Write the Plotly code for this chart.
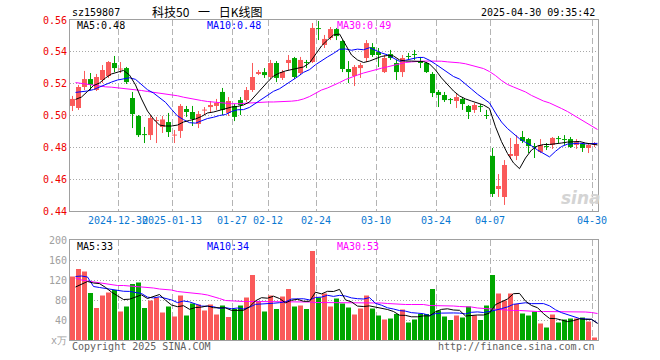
import plotly.graph_objects as go

dates = ["2024-12-18","2024-12-19","2024-12-20","2024-12-23","2024-12-24","2024-12-25","2024-12-26","2024-12-27","2024-12-30","2024-12-31",
 "2025-01-02","2025-01-03","2025-01-06","2025-01-07","2025-01-08","2025-01-09","2025-01-10","2025-01-13","2025-01-14","2025-01-15",
 "2025-01-16","2025-01-17","2025-01-20","2025-01-21","2025-01-22","2025-01-23","2025-01-24","2025-01-27","2025-02-05","2025-02-06",
 "2025-02-07","2025-02-10","2025-02-11","2025-02-12","2025-02-13","2025-02-14","2025-02-17","2025-02-18","2025-02-19","2025-02-20",
 "2025-02-21","2025-02-24","2025-02-25","2025-02-26","2025-02-27","2025-02-28","2025-03-03","2025-03-04","2025-03-05","2025-03-06",
 "2025-03-07","2025-03-10","2025-03-11","2025-03-12","2025-03-13","2025-03-14","2025-03-17","2025-03-18","2025-03-19","2025-03-20",
 "2025-03-21","2025-03-24","2025-03-25","2025-03-26","2025-03-27","2025-03-28","2025-03-31","2025-04-01","2025-04-02","2025-04-03",
 "2025-04-07","2025-04-08","2025-04-09","2025-04-10","2025-04-11","2025-04-14","2025-04-15","2025-04-16","2025-04-17","2025-04-18",
 "2025-04-21","2025-04-22","2025-04-23","2025-04-24","2025-04-25","2025-04-28","2025-04-29","2025-04-30"]

open_ = [0.5060,0.5047,0.5179,0.5229,0.5160,0.5223,0.5248,0.5330,0.5289,0.5298,
 0.5110,0.4997,0.4880,0.4877,0.4965,0.4928,0.4959,0.4874,0.4903,0.5041,
 0.5022,0.4947,0.5031,0.5053,0.5060,0.5148,0.5016,0.5060,0.5097,0.5097,
 0.5160,0.5261,0.5273,0.5242,0.5330,0.5236,0.5330,0.5361,0.5267,0.5333,
 0.5336,0.5547,0.5443,0.5487,0.5543,0.5468,0.5292,0.5248,0.5298,0.5361,
 0.5430,0.5399,0.5273,0.5386,0.5330,0.5273,0.5371,0.5383,0.5342,0.5330,
 0.5261,0.5148,0.5129,0.5101,0.5091,0.5104,0.5060,0.5035,0.5056,0.5000,
 0.4746,0.4538,0.4488,0.4746,0.4746,0.4865,0.4852,0.4805,0.4771,0.4808,
 0.4815,0.4855,0.4849,0.4852,0.4815,0.4821,0.4796,0.4815]

high = [0.5123,0.5192,0.5280,0.5267,0.5261,0.5317,0.5342,0.5374,0.5336,0.5305,
 0.5148,0.5003,0.4928,0.5003,0.4991,0.4997,0.5016,0.4909,0.5072,0.5060,
 0.5060,0.5028,0.5053,0.5091,0.5104,0.5173,0.5116,0.5072,0.5116,0.5179,
 0.5330,0.5286,0.5298,0.5349,0.5342,0.5286,0.5380,0.5368,0.5368,0.5349,
 0.5581,0.5594,0.5506,0.5556,0.5550,0.5474,0.5342,0.5317,0.5330,0.5474,
 0.5455,0.5424,0.5380,0.5412,0.5349,0.5380,0.5393,0.5412,0.5368,0.5336,
 0.5273,0.5160,0.5148,0.5110,0.5141,0.5116,0.5066,0.5079,0.5072,0.5035,
 0.4796,0.4632,0.4720,0.4859,0.4877,0.4903,0.4859,0.4827,0.4852,0.4827,
 0.4865,0.4871,0.4877,0.4865,0.4852,0.4827,0.4827,0.4833]

low = [0.5028,0.5035,0.5160,0.5160,0.5154,0.5204,0.5236,0.5273,0.5267,0.5198,
 0.4921,0.4865,0.4827,0.4846,0.4827,0.4890,0.4865,0.4827,0.4859,0.4991,
 0.4934,0.4921,0.5003,0.5016,0.5035,0.5003,0.4997,0.4965,0.5003,0.5085,
 0.5148,0.5254,0.5236,0.5229,0.5210,0.5223,0.5286,0.5229,0.5254,0.5298,
 0.5330,0.5474,0.5424,0.5474,0.5474,0.5273,0.5204,0.5185,0.5236,0.5336,
 0.5368,0.5305,0.5267,0.5349,0.5223,0.5242,0.5349,0.5349,0.5298,0.5267,
 0.5116,0.5053,0.5085,0.5072,0.5047,0.5035,0.4978,0.5016,0.5022,0.4978,
 0.4488,0.4488,0.4438,0.4727,0.4720,0.4827,0.4764,0.4733,0.4764,0.4783,
 0.4790,0.4827,0.4815,0.4796,0.4790,0.4771,0.4764,0.4802]

close = [0.5104,0.5179,0.5229,0.5192,0.5242,0.5286,0.5336,0.5298,0.5292,0.5210,
 0.5009,0.4877,0.4877,0.4984,0.4969,0.4975,0.4896,0.4877,0.5060,0.5022,
 0.4978,0.5009,0.5035,0.5066,0.5079,0.5035,0.5091,0.4991,0.5066,0.5160,
 0.5242,0.5273,0.5254,0.5330,0.5236,0.5273,0.5349,0.5242,0.5349,0.5330,
 0.5550,0.5543,0.5481,0.5543,0.5499,0.5292,0.5273,0.5305,0.5317,0.5455,
 0.5380,0.5380,0.5361,0.5361,0.5273,0.5361,0.5368,0.5380,0.5330,0.5273,
 0.5141,0.5129,0.5097,0.5097,0.5116,0.5072,0.5022,0.5066,0.5053,0.4997,
 0.4507,0.4557,0.4689,0.4758,0.4821,0.4840,0.4808,0.4802,0.4815,0.4802,
 0.4859,0.4852,0.4846,0.4802,0.4833,0.4796,0.4815,0.4827]

ma5 = [0.5101,0.5116,0.5151,0.5188,0.5204,0.5236,0.5261,0.5273,0.5283,0.5254,
 0.5192,0.5104,0.5028,0.4978,0.4940,0.4934,0.4934,0.4940,0.4959,0.4969,
 0.4978,0.4994,0.5016,0.5022,0.5031,0.5041,0.5053,0.5057,0.5066,0.5085,
 0.5129,0.5173,0.5210,0.5248,0.5267,0.5280,0.5289,0.5295,0.5305,0.5330,
 0.5380,0.5437,0.5474,0.5506,0.5512,0.5443,0.5380,0.5349,0.5333,0.5342,
 0.5358,0.5371,0.5377,0.5374,0.5349,0.5342,0.5342,0.5342,0.5339,0.5324,
 0.5286,0.5236,0.5192,0.5154,0.5123,0.5104,0.5091,0.5079,0.5066,0.5044,
 0.4929,0.4836,0.4761,0.4702,0.4666,0.4733,0.4783,0.4808,0.4818,0.4818,
 0.4821,0.4827,0.4833,0.4833,0.4837,0.4827,0.4821,0.4815]

ma10 = [0.5145,0.5148,0.5154,0.5163,0.5179,0.5198,0.5210,0.5223,0.5229,0.5237,
 0.5227,0.5197,0.5162,0.5141,0.5114,0.5083,0.5039,0.4997,0.4974,0.4955,
 0.4952,0.4965,0.4981,0.4989,0.5000,0.5006,0.5025,0.5036,0.5037,0.5051,
 0.5077,0.5104,0.5126,0.5152,0.5168,0.5192,0.5217,0.5243,0.5271,0.5288,
 0.5319,0.5346,0.5368,0.5390,0.5416,0.5418,0.5410,0.5417,0.5413,0.5426,
 0.5409,0.5393,0.5381,0.5363,0.5340,0.5347,0.5356,0.5364,0.5365,0.5347,
 0.5323,0.5298,0.5271,0.5245,0.5229,0.5200,0.5166,0.5134,0.5107,0.5079,
 0.5016,0.4959,0.4918,0.4884,0.4854,0.4831,0.4810,0.4783,0.4759,0.4740,
 0.4775,0.4805,0.4820,0.4825,0.4826,0.4822,0.4822,0.4825]

ma30 = [0.5207,0.5201,0.5195,0.5188,0.5184,0.5180,0.5178,0.5174,0.5172,0.5168,
 0.5163,0.5157,0.5151,0.5146,0.5143,0.5138,0.5132,0.5124,0.5115,0.5107,
 0.5101,0.5094,0.5088,0.5084,0.5080,0.5077,0.5074,0.5074,0.5077,0.5080,
 0.5082,0.5084,0.5085,0.5085,0.5086,0.5088,0.5090,0.5094,0.5104,0.5119,
 0.5141,0.5160,0.5173,0.5188,0.5207,0.5226,0.5242,0.5254,0.5267,0.5278,
 0.5287,0.5297,0.5306,0.5316,0.5325,0.5333,0.5337,0.5341,0.5342,0.5342,
 0.5342,0.5341,0.5337,0.5335,0.5331,0.5325,0.5316,0.5308,0.5295,0.5276,
 0.5251,0.5220,0.5195,0.5179,0.5166,0.5148,0.5126,0.5107,0.5091,0.5079,
 0.5063,0.5044,0.5025,0.5003,0.4981,0.4959,0.4934,0.4912]

volume = [127,142,137,94,64,89,95,100,57,67,
 112,115,64,79,85,55,67,47,89,49,
 73,71,59,71,51,69,46,62,69,85,
 130,77,57,89,62,87,102,67,69,62,
 178,85,93,67,83,73,65,51,63,89,
 63,49,41,43,52,61,35,41,52,52,
 102,59,47,40,49,45,67,49,40,69,
 130,93,79,93,72,53,49,57,33,25,
 51,35,41,43,43,45,37,5]

vma5 = [106,112,117,114,112.8,105.2,95.8,88.4,81,81.6,
 86.2,90.2,83,87.4,91,79.6,70,66.6,68.6,61.4,
 65,65.8,68.2,64.6,65,64.2,59.2,59.8,59.4,66.2,
 78.4,84.6,83.6,87.6,83,74.4,79.4,81.4,77.4,77.4,
 95.6,92.2,97.4,97,101.2,80.2,76.2,67.8,67,68.2,
 66.2,63,61,57,49.6,49.2,46.4,46.4,48.2,48.2,
 56.4,61.2,62.4,60,59.4,48,49.6,50,50,53.8,
 70.8,76,82,92.6,93.2,77.8,69,64.6,52.6,43.2,
 42.8,40,36.8,38.8,42.4,41.2,41.6,33]

vma10 = [127,128,126,107,105,103,101,99,97.5,97.2,
 95.7,93,85.7,84.2,86.3,82.9,80.1,74.8,78,76.2,
 72.3,67.9,67.4,66.6,63.2,64.6,62.5,64,62,65.6,
 71.3,71.9,71.7,73.5,74.6,76.4,82,82.5,82.5,80.2,
 85,85.8,89.4,87.2,89.3,87.9,84.2,82.6,82,84.7,
 73.2,69.6,64.4,62,58.9,57.7,54.7,53.7,52.6,48.9,
 52.8,53.8,54.4,54.1,53.8,52.2,55.4,56.2,55,56.7,
 59.5,62.9,66.1,71.4,73.7,74.5,72.7,73.5,72.8,68.4,
 60.5,54.7,50.9,45.9,43,42.2,41,34]

vma30 = [124,120,118,116,114,112,111,109,109,108,
 107,107,106,104,102,101,100,97,96,95,
 93,92,90,87,83,79,78,77,77,77,
 77,76,76,76,77,77,77,77,76,76,
 75,75,74,74,74,74,74,74,74,74,
 74,74,73,72,72,71,71,71,71,69,
 69,69,68,68,67,67,66,64,63,63,
 62,61,60,59,59,58,58,57,57,57,
 56,56,56,56,56,56,55,53]

tick_dates = ["2024-12-30","2025-01-13","2025-01-27","2025-02-12","2025-02-24",
              "2025-03-10","2025-03-24","2025-04-07","2025-04-30"]
tick_text = ["2024-12-30","2025-01-13","01-27","02-12","02-24","03-10","03-24","04-07","04-30"]
price_ticks = [0.44, 0.46, 0.48, 0.50, 0.52, 0.54, 0.56]
vol_ticks = [0, 40, 80, 120, 160, 200]
vol_tick_text = ["x万", "40", "80", "120", "160", "200"]

# ---------------------------------------------------------------- layout consts
W, H = 660, 360
ML, MR, MT, MB = 70, 62, 20, 20
PW, PH = W - ML - MR, H - MT - MB
UP, DOWN = "#fa5a5a", "#00a600"
MONO = "DejaVu Sans Mono, monospace"
BW = 5 / 6
SHIFT = 5 / 12

n = len(dates)
x = list(range(n))
xm = [i + 0.5 for i in x]
up = [c >= o for o, c in zip(open_, close)]
colors = [UP if u else DOWN for u in up]
body_base = [min(o, c) for o, c in zip(open_, close)]
body_h = [max(abs(c - o), 0.0006) for o, c in zip(open_, close)]

fig = go.Figure()

fig.add_trace(go.Bar(x=x, y=body_h, base=body_base, width=BW,
                     marker=dict(color=colors, line=dict(width=0)),
                     xaxis="x", yaxis="y", hoverinfo="skip"))
for flag, col in ((True, UP), (False, DOWN)):
    wx, wy = [], []
    for i in range(n):
        if up[i] == flag:
            wx += [x[i], x[i], None]
            wy += [low[i], high[i], None]
    fig.add_trace(go.Scatter(x=wx, y=wy, mode="lines", line=dict(color=col, width=1),
                             xaxis="x", yaxis="y", hoverinfo="skip"))

for arr, col in ((ma30, "#ff00ff"), (ma10, "#0000ff"), (ma5, "#000000")):
    fig.add_trace(go.Scatter(x=xm, y=arr, mode="lines", line=dict(color=col, width=1),
                             xaxis="x", yaxis="y", hoverinfo="skip"))

fig.add_trace(go.Bar(x=x, y=volume, width=BW, marker=dict(color=colors, line=dict(width=0)),
                     xaxis="x2", yaxis="y2", hoverinfo="skip"))
for arr, col in ((vma30, "#ff00ff"), (vma10, "#0000ff"), (vma5, "#000000")):
    fig.add_trace(go.Scatter(x=xm, y=arr, mode="lines", line=dict(color=col, width=1),
                             xaxis="x2", yaxis="y2", hoverinfo="skip"))

grid_x = [dates.index(d) - SHIFT for d in tick_dates]
x_range = [-SHIFT, n - SHIFT]

def px_x(p):
    return (p - ML) / PW

def px_y(p):
    return (H - MB - p) / PH

common_x = dict(range=x_range, tickmode="array", tickvals=grid_x, tickangle=0,
                showgrid=True, gridcolor="#b4b4b4", griddash="6px,3px", gridwidth=1,
                showline=True, linecolor="#a0a0a0", linewidth=1, mirror=True,
                zeroline=False, ticks="", fixedrange=True)
common_y = dict(showgrid=True, gridcolor="#a8a8a8", griddash="1px,2px", gridwidth=1,
                showline=True, linecolor="#a0a0a0", linewidth=1, mirror=True,
                zeroline=False, ticks="", fixedrange=True, tickmode="array")

fig.update_layout(
    width=W, height=H, autosize=False,
    margin=dict(l=ML, r=MR, t=MT, b=MB, pad=0),
    paper_bgcolor="white", plot_bgcolor="white",
    showlegend=False, barmode="overlay", hovermode=False, dragmode=False,
    xaxis=dict(domain=[0, 1], anchor="y", ticktext=tick_text,
               tickfont=dict(family=MONO, size=10, color="#0a78d2"), **common_x),
    xaxis2=dict(domain=[0, 1], anchor="y2", showticklabels=False, **common_x),
    yaxis=dict(domain=[px_y(211), 1], anchor="x", range=[0.44, 0.56],
               tickvals=price_ticks, ticktext=["%.2f" % v for v in price_ticks],
               tickfont=dict(family=MONO, size=10, color="#ee0000"), **common_y),
    yaxis2=dict(domain=[0, px_y(240)], anchor="x2", range=[0, 200],
                tickvals=vol_ticks, ticktext=vol_tick_text,
                tickfont=dict(family=MONO, size=10, color="#a0a0a0"), **common_y),
)

def note(text, px, py, anchor="left", color="#000000", size=10, family=MONO):
    fig.add_annotation(text=text, xref="paper", yref="paper", x=px_x(px), y=px_y(py),
                       xanchor=anchor, yanchor="middle", showarrow=False,
                       font=dict(family=family, size=size, color=color))

note("sz159807", 70, 13)
note("科技50\u2002\u00a0一\u2002\u00a0日K线图", 207, 11.5, anchor="center", size=12,
     family="Noto Sans CJK SC, DejaVu Sans Mono")
note("2025-04-30 09:35:42", 597, 12.5, anchor="right")
note("MA5:%.2f" % ma5[-1], 75, 25.5)
note("MA10:%.2f" % ma10[-1], 205, 25.5, color="#0000ff")
note("MA30:%.2f" % ma30[-1], 335, 25.5, color="#ff00ff")
note("MA5:%d" % round(vma5[-1]), 75, 246.5)
note("MA10:%d" % round(vma10[-1]), 205, 246.5, color="#0000ff")
note("MA30:%d" % round(vma30[-1]), 335, 246.5, color="#ff00ff")
note("Copyright 2025 SINA.COM", 70, 346, color="#606060")
note("http://finance.sina.com.cn", 597, 346, anchor="right", color="#606060")
note("<b><i>sina</i></b>", 581, 198, anchor="center", color="#d4d4d4", size=17,
     family="DejaVu Sans")

fig.write_html("out.html", config={"displayModeBar": False, "staticPlot": True})
